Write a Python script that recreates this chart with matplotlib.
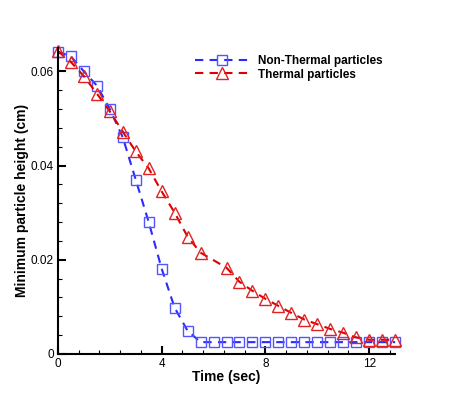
import matplotlib
matplotlib.use("Agg")
import matplotlib.pyplot as plt
from matplotlib.ticker import MultipleLocator, FuncFormatter

# Non-thermal particles (blue squares)
t_nonthermal = [0, 0.5, 1, 1.5, 2, 2.5, 3, 3.5, 4, 4.5, 5, 5.5,
                6, 6.5, 7, 7.5, 8, 8.5, 9, 9.5, 10, 10.5, 11, 11.5, 12, 12.5, 13]
h_nonthermal = [0.0642, 0.0632, 0.0600, 0.0570, 0.0520, 0.0460, 0.0370, 0.0280,
                0.0181, 0.0098, 0.0049, 0.0025,
                0.0025, 0.0025, 0.0025, 0.0025, 0.0025, 0.0025, 0.0025, 0.0025,
                0.0025, 0.0025, 0.0025, 0.0025, 0.0025, 0.0025, 0.0025]

# Thermal particles (red triangles)
t_thermal = [0, 0.5, 1, 1.5, 2, 2.5, 3, 3.5, 4, 4.5, 5, 5.5,
             6.5, 7, 7.5, 8, 8.5, 9, 9.5, 10, 10.5, 11, 11.5, 12, 12.5, 13]
h_thermal = [0.0643, 0.0620, 0.0590, 0.0553, 0.0515, 0.0472, 0.0430, 0.0394,
             0.0345, 0.0300, 0.0249, 0.0215,
             0.0183, 0.0153, 0.0134, 0.0117, 0.0102, 0.0087, 0.0073, 0.0063,
             0.0053, 0.0045, 0.0035, 0.0030, 0.0030, 0.0030]

plt.rcParams['font.family'] = ['Liberation Sans', 'DejaVu Sans']

fig = plt.figure(figsize=(4.49, 3.99), dpi=100)
ax = fig.add_axes([0.129, 0.113, 0.751, 0.767])

ax.plot(t_nonthermal, h_nonthermal, color='#2a2aff', linestyle=(0, (4, 3)), lw=1.5,
        marker='s', markersize=7, markerfacecolor='none', markeredgecolor='#5555ff',
        markeredgewidth=1.0, label='Non-Thermal particles', clip_on=False)
ax.plot(t_thermal, h_thermal, color='#dd0000', linestyle=(0, (4, 3)), lw=1.5,
        marker='^', markersize=8, markerfacecolor='none', markeredgecolor='#e22222',
        markeredgewidth=1.0, label='Thermal particles', clip_on=False)

ax.set_xlim(0, 13)
ax.set_ylim(0, 0.065)
ax.xaxis.set_major_locator(MultipleLocator(4))
ax.xaxis.set_minor_locator(MultipleLocator(0.8))
ax.yaxis.set_major_locator(MultipleLocator(0.02))
ax.yaxis.set_minor_locator(MultipleLocator(0.004))
fmt = FuncFormatter(lambda v, p: '%g' % round(v, 4))
ax.xaxis.set_major_formatter(fmt)
ax.yaxis.set_major_formatter(fmt)

for side in ('top', 'right'):
    ax.spines[side].set_visible(False)
for side in ('left', 'bottom'):
    ax.spines[side].set_linewidth(1.5)

ax.tick_params(which='major', direction='in', length=6, width=1.5, labelsize=8.5, pad=3)
ax.tick_params(which='minor', direction='in', length=3, width=0.8)

ax.set_xlabel('Time (sec)', fontsize=10, fontweight='bold', labelpad=0)
ax.set_ylabel('Minimum particle height (cm)', fontsize=10, fontweight='bold', labelpad=1)

ax.legend(loc='upper left', bbox_to_anchor=(0.376, 1.012), frameon=False,
          handlelength=4.5, handletextpad=0.8, labelspacing=0.15,
          prop={'weight': 'bold', 'size': 8.5})

fig.savefig('out.png', dpi=100)
